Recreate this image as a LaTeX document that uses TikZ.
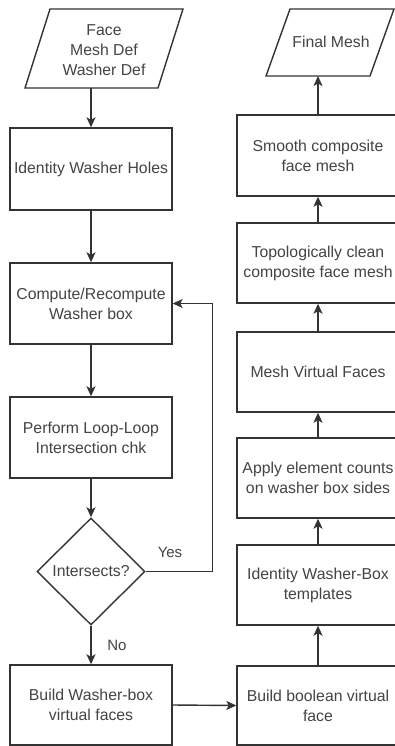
\documentclass[tikz,border=0pt]{standalone}
\usepackage{fontspec}
\setmainfont{Liberation Sans}
\usetikzlibrary{arrows.meta,shapes.geometric}
\definecolor{ln}{HTML}{333333}
\definecolor{tx}{HTML}{444444}
\begin{document}
\begin{tikzpicture}[x=1pt,y=-1pt,
  fnt/.style={font=\fontsize{15.8}{20}\selectfont},
  box/.style={draw=ln, line width=1.4pt, fill=white, minimum width=162pt, minimum height=#1, inner sep=0pt, align=center, text=tx, fnt},
  box/.default=81pt,
  dia/.style={draw=ln, line width=1.4pt, fill=white, shape=diamond, aspect=1, minimum width=108pt, minimum height=107pt, inner sep=0pt, text=tx, fnt},
  shp/.style={draw=ln, line width=1.4pt, fill=white, line join=miter},
  txt/.style={align=center, text=tx, fnt, inner sep=0pt},
  lbl/.style={text=tx, font=\fontsize{15}{18}\selectfont, inner sep=0pt},
  arr/.style={draw=ln, line width=1.4pt, -{Stealth[length=10pt,width=9pt,inset=2.5pt]}},
  con/.style={draw=ln, line width=1.4pt}]
\useasboundingbox (0,0) rectangle (395,746);
\clip (0,0) rectangle (395,746);
\fill[white] (0,0) rectangle (395,746);

% left column
\draw[shp] (50,9) -- (183,9) -- (158,88) -- (25,88) -- cycle;
\node[txt] (in) at (104,50) {Face\\Mesh Def\\Washer Def};
\coordinate (inb) at (91,88);
\node[box=82pt] (ident) at (91,169) {Identity Washer Holes};
\node[box] (comp) at (91,303.5) {Compute/Recompute\\Washer box};
\node[box] (perf) at (91,437.5) {Perform Loop-Loop\\Intersection chk};
\node[dia] (dec) at (91,571.5) {Intersects?};
\node[box=80pt] (bwb) at (91,705) {Build Washer-box\\virtual faces};

% right column
\draw[shp] (290,9) -- (394,9) -- (370,76) -- (266,76) -- cycle;
\node[txt] (final) at (331,42) {Final Mesh};
\coordinate (finb) at (318,76);
\node[box] (smooth) at (318,155.5) {Smooth composite\\face mesh};
\node[box=80pt] (topo) at (318,263) {Topologically clean\\composite face mesh};
\node[box=80pt] (mvf) at (318,372) {Mesh Virtual Faces};
\node[box=80pt] (apply) at (318,478) {Apply element counts\\on washer box sides};
\node[box=80pt] (iwb) at (318,585) {Identity Washer-Box\\templates};
\node[box=79pt] (bool) at (318,705.5) {Build boolean virtual\\face};

% labels
\node[lbl] (yes) at (170,552) {Yes};
\node[lbl] (no) at (117,645) {No};

% connectors
\draw[arr] (inb) -- (ident);
\draw[arr] (ident) -- (comp);
\draw[arr] (comp) -- (perf);
\draw[arr] (perf) -- (dec);
\draw[arr] (dec.east) -- ++(67,0) |- (comp.east);
\draw[arr] (dec.south) -- (bwb.north);
\draw[arr] (bwb.east) -- (bool.west);
\draw[arr] (bool) -- (iwb);
\draw[arr] (iwb) -- (apply);
\draw[arr] (apply) -- (mvf);
\draw[arr] (mvf) -- (topo);
\draw[arr] (topo) -- (smooth);
\draw[arr] (smooth) -- (finb);
\end{tikzpicture}
\end{document}
